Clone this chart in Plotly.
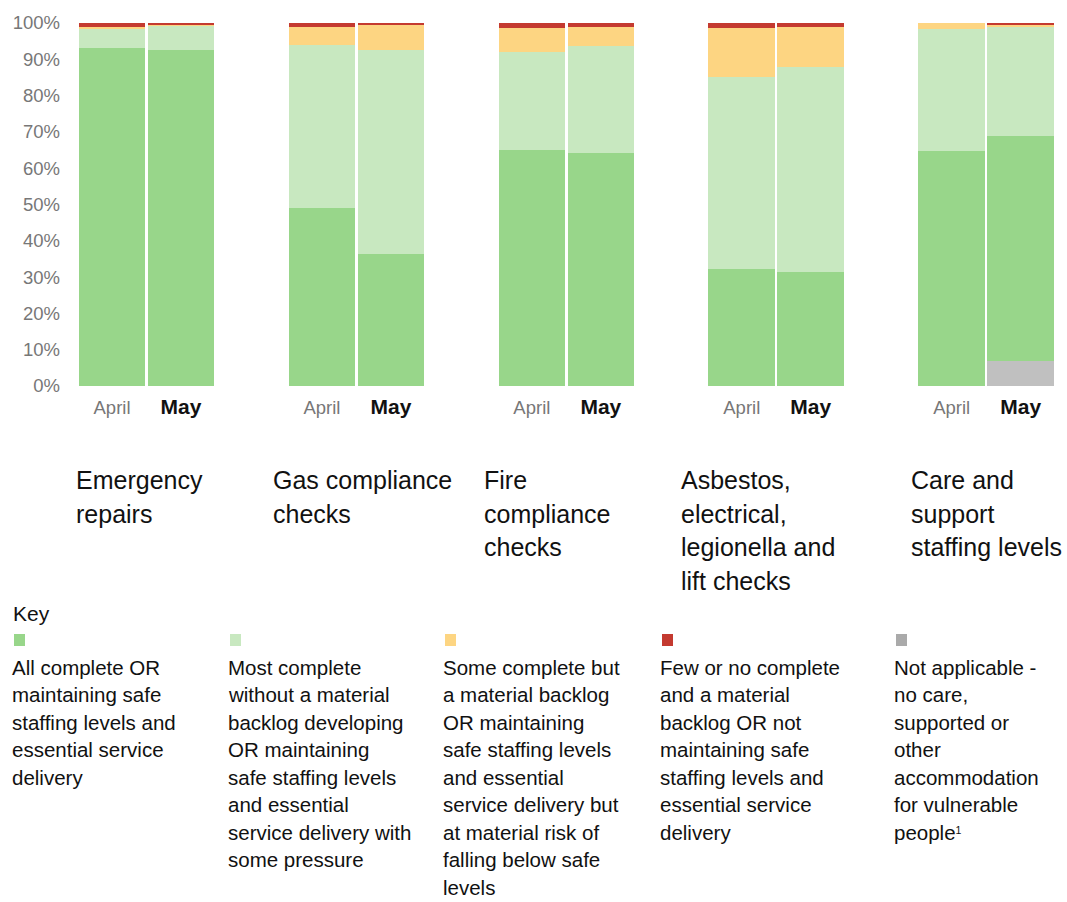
import plotly.graph_objects as go

# Service areas and months
groups = ["Emergency repairs", "Gas compliance checks", "Fire compliance checks",
          "Asbestos, electrical, legionella and lift checks", "Care and support staffing levels"]
group_title_lines = [
    ["Emergency", "repairs"],
    ["Gas compliance", "checks"],
    ["Fire", "compliance", "checks"],
    ["Asbestos,", "electrical,", "legionella and", "lift checks"],
    ["Care and", "support", "staffing levels"],
]
months = ["April", "May"]

# Share of respondents (%) per category, ordered April/May for each group
not_applicable = [0, 0, 0, 0, 0, 0, 0, 0, 0, 7.0]
all_complete = [93.0, 92.5, 49.0, 36.5, 65.0, 64.2, 32.2, 31.4, 64.7, 62.0]
most_complete = [5.5, 6.9, 45.0, 56.0, 27.0, 29.5, 52.8, 56.5, 33.6, 29.8]
some_complete = [0.5, 0.1, 5.0, 7.0, 6.7, 5.1, 13.7, 11.1, 1.7, 0.6]
few_complete = [1.0, 0.5, 1.0, 0.5, 1.3, 1.2, 1.3, 1.0, 0.0, 0.6]

series = [
    ("Not applicable", not_applicable, "#c0c0c0"),
    ("All complete", all_complete, "#98d68a"),
    ("Most complete", most_complete, "#c8e8c0"),
    ("Some complete", some_complete, "#fdd582"),
    ("Few or no complete", few_complete, "#c43a30"),
]

key_texts = [
    ["All complete OR", "maintaining safe", "staffing levels and", "essential service", "delivery"],
    ["Most complete", "without a material", "backlog developing", "OR maintaining", "safe staffing levels",
     "and essential", "service delivery with", "some pressure"],
    ["Some complete but", "a material backlog", "OR maintaining", "safe staffing levels", "and essential",
     "service delivery but", "at material risk of", "falling below safe", "levels"],
    ["Few or no complete", "and a material", "backlog OR not", "maintaining safe", "staffing levels and",
     "essential service", "delivery"],
    ["Not applicable -", "no care,", "supported or", "other", "accommodation", "for vulnerable",
     "people<span style='font-size:15px'><sup>1</sup></span>"],
]
key_colors = ["#98d68a", "#c8e8c0", "#fdd582", "#c43a30", "#aaaaaa"]
yticks = [0, 10, 20, 30, 40, 50, 60, 70, 80, 90, 100]

W, H = 1067, 902
FONT = "Liberation Sans, Arial, sans-serif"

# Bar positions: two adjacent bars per group, groups spaced apart
pitch = 3.043
xpos = []
xlabels = []
for g in range(len(groups)):
    for m, mon in enumerate(months):
        xpos.append(g * pitch + m)
        if mon == "May":
            xlabels.append("<span style='font-size:21px'><b>May</b></span>")
        else:
            xlabels.append("<span style='color:#777777'>April</span>")

fig = go.Figure()
for name, vals, col in series:
    fig.add_trace(go.Bar(x=xpos, y=vals, name=name, marker=dict(color=col, line=dict(width=0)),
                         width=0.965, showlegend=False, hoverinfo="y+name"))

x0_px, x1_px = 78, 1055
y_top_px, y_bot_px = 23, 386

fig.update_layout(
    width=W, height=H,
    barmode="stack",
    margin=dict(l=0, r=0, t=0, b=0),
    paper_bgcolor="white", plot_bgcolor="white",
    font=dict(family=FONT, color="#222222"),
    xaxis=dict(domain=[x0_px / W, x1_px / W], range=[-0.493, 13.67], automargin=False,
               tickmode="array", tickvals=xpos, ticktext=xlabels,
               tickfont=dict(size=18.5, color="#111111"), showgrid=False, zeroline=False,
               showline=False, ticks="", ticklabelstandoff=8),
    yaxis=dict(domain=[(H - y_bot_px) / H, (H - y_top_px) / H], range=[0, 100], automargin=False,
               tickmode="array", tickvals=yticks, ticktext=[f"{v}%" for v in yticks],
               tickfont=dict(size=18.5, color="#777777"), showgrid=False, zeroline=False,
               showline=False, ticks="", ticklabelstandoff=17),
)

annotations = []
shapes = []

# Group titles beneath each pair of bars
title_x = [74, 271, 482, 679, 909]
for g, lines in enumerate(group_title_lines):
    for i, line in enumerate(lines):
        annotations.append(dict(text=line, x=title_x[g] / W, y=1 - (480 + i * 33.7) / H,
                                xref="paper", yref="paper", xanchor="left", yanchor="middle",
                                showarrow=False, font=dict(size=25, color="#111111", family=FONT)))

# Key
annotations.append(dict(text="Key", x=11 / W, y=1 - 613 / H, xref="paper", yref="paper",
                        xanchor="left", yanchor="middle", showarrow=False,
                        font=dict(size=21, color="#111111", family=FONT)))
key_x = [11, 227, 442, 659, 893]
for k, lines in enumerate(key_texts):
    sx = key_x[k] + 3
    shapes.append(dict(type="rect", xref="paper", yref="paper",
                       x0=sx / W, x1=(sx + 11) / W, y0=1 - 646 / H, y1=1 - 634 / H,
                       fillcolor=key_colors[k], line=dict(width=0)))
    for i, line in enumerate(lines):
        annotations.append(dict(text=line, x=key_x[k] / W, y=1 - (667 + i * 27.5) / H,
                                xref="paper", yref="paper", xanchor="left", yanchor="middle",
                                borderpad=0, showarrow=False,
                                font=dict(size=20.5, color="#111111", family=FONT)))

fig.update_layout(annotations=annotations, shapes=shapes)
fig.write_html("out.html")
